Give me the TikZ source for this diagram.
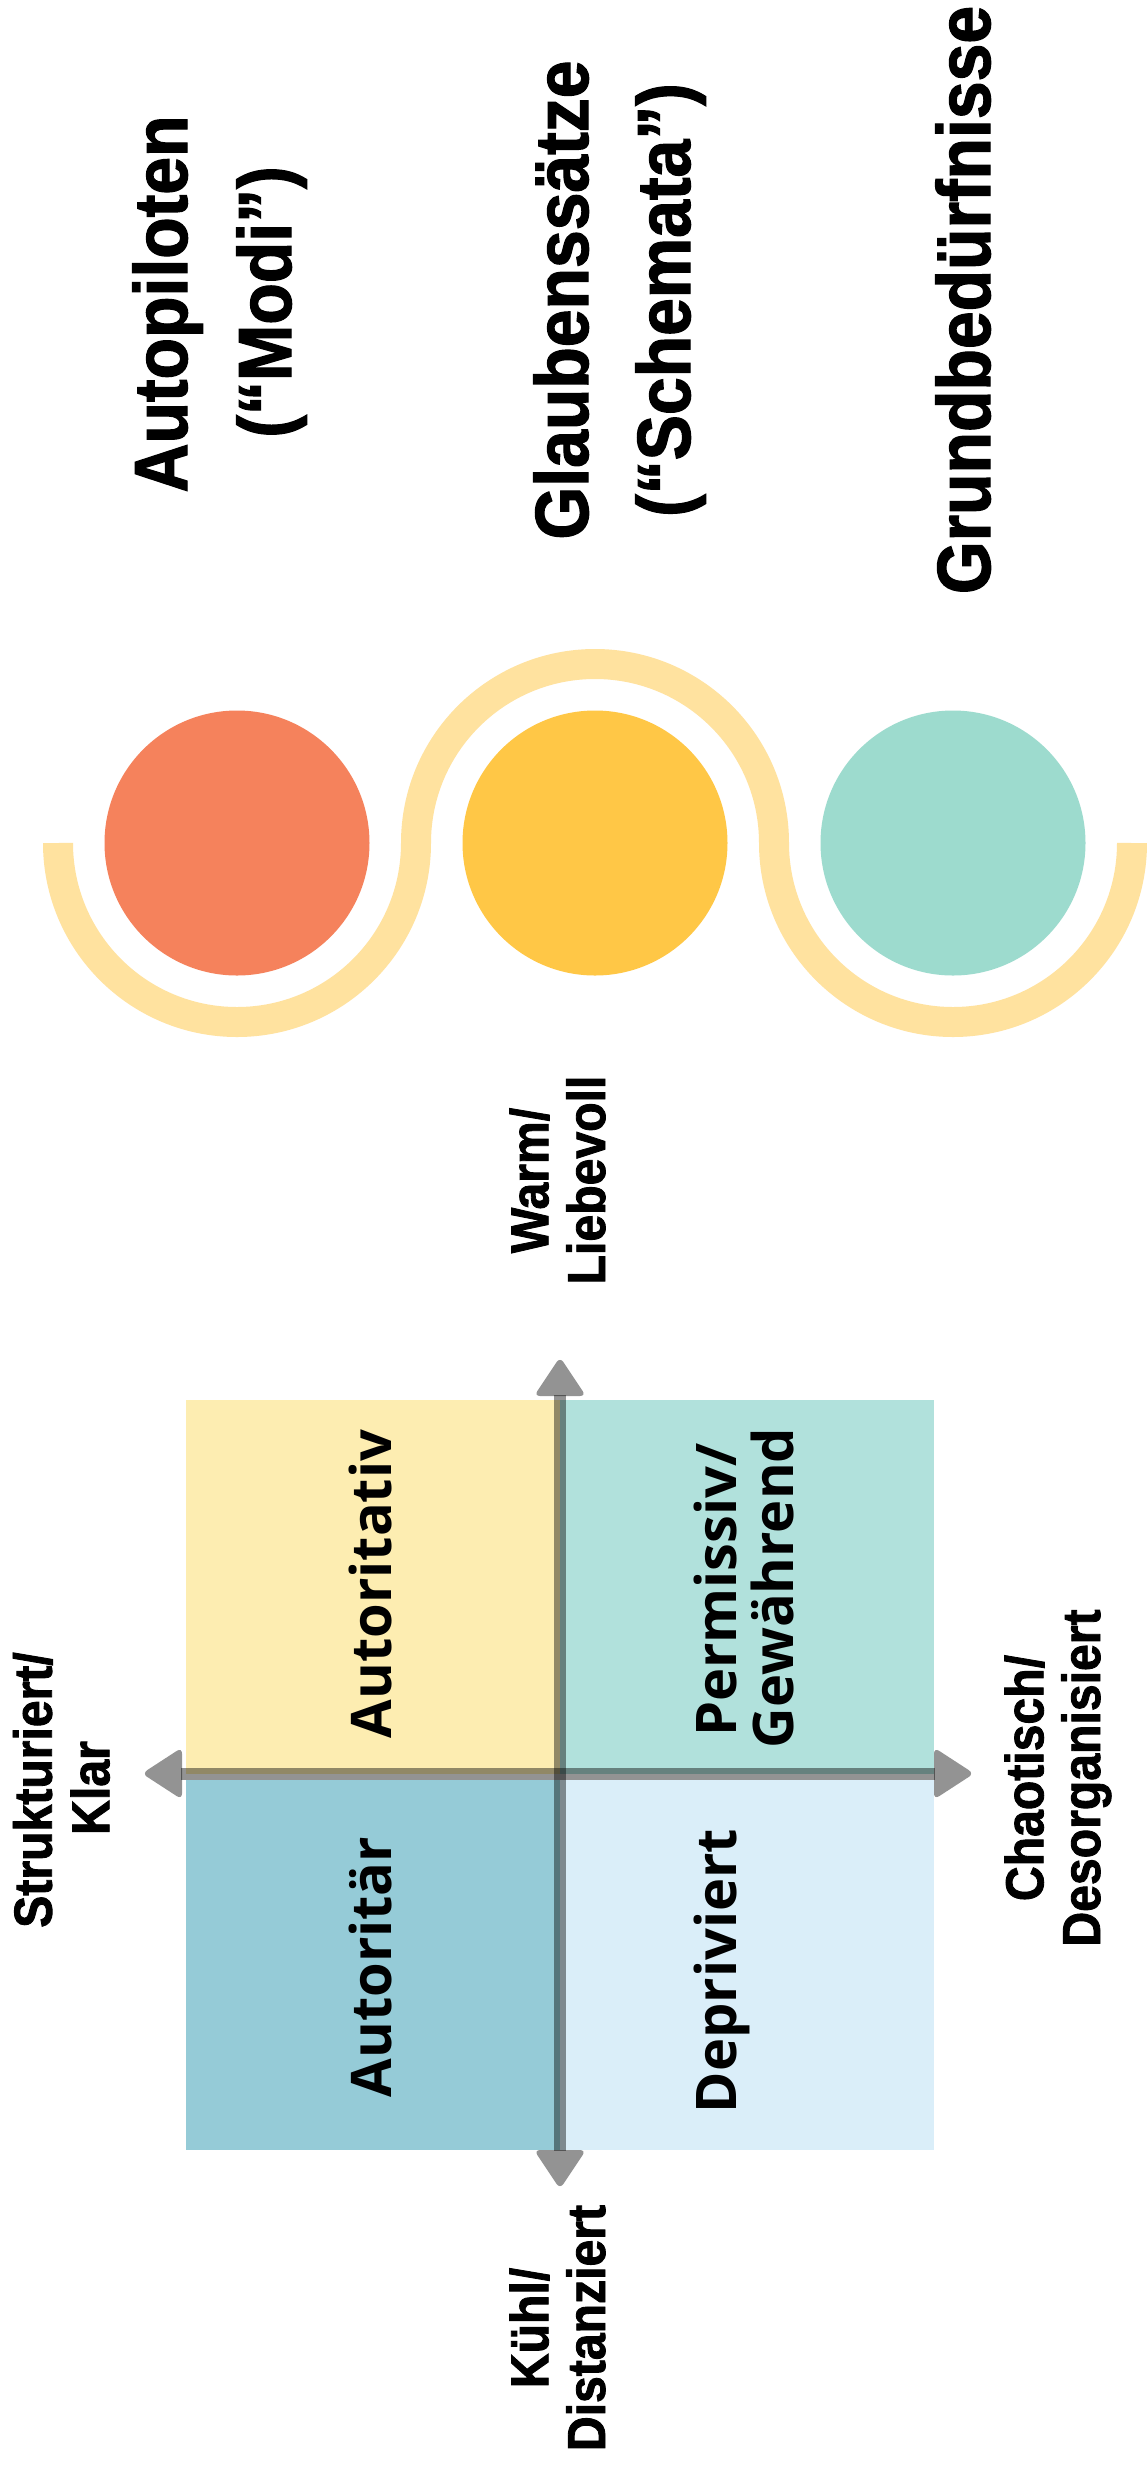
\documentclass[tikz,border=0pt]{standalone}
\usepackage{fontspec}
\setmainfont{Liberation Sans}
\newfontfamily\hfont[FakeStretch=0.9, FakeBold=1.6, UprightFont={Liberation Sans Bold}, BoldFont={Liberation Sans Bold}]{Liberation Sans Bold}
\newfontfamily\qfont{Open Sans}
\definecolor{cred}{HTML}{F5825C}
\definecolor{cyel}{HTML}{FFC746}
\definecolor{cteal}{HTML}{9DDBCE}
\definecolor{cband}{HTML}{FFE29F}
\definecolor{qyel}{HTML}{FDEDB1}
\definecolor{qteal}{HTML}{B1E1DC}
\definecolor{qblue}{HTML}{95CBD7}
\definecolor{qlight}{HTML}{DAEEF9}
\definecolor{axgray}{HTML}{939393}
\begin{document}
\begin{tikzpicture}[x=1pt,y=-1pt,
  title/.style={rotate=90, anchor=base, inner sep=0pt, font=\hfont\fontsize{75.4}{80}\selectfont},
  axlabel/.style={rotate=90, anchor=base, inner sep=0pt, font=\hfont\fontsize{53.5}{57}\selectfont},
  quadlabel/.style={rotate=90, anchor=base, inner sep=0pt, font=\qfont\bfseries\fontsize{56}{60}\selectfont},
  ball/.style={circle, inner sep=0pt, minimum size=265pt},
  band/.style={draw=cband, line width=30pt},
  axisline/.style={draw=axgray, line width=12pt, blend mode=multiply},
  axishead/.style={fill=axgray, rounded corners=6pt, blend mode=multiply}]
\useasboundingbox (0,0) rectangle (1146,2471);
\fill[white] (0,0) rectangle (1146,2471);

% titles
\node[title] (t1a) at (187,304) {Autopiloten};
\node[title] (t1b) at (291,302) {(“Modi”)};
\node[title] (t2a) at (588,300) {Glaubenssätze};
\node[title] (t2b) at (690,300) {(“Schemata”)};
\node[title] (t3) at (990,300) {Grundbedürfnisse};

% wave band and circles
\draw[band] (58,843) arc[start angle=180, end angle=0, radius=179]
  arc[start angle=180, end angle=360, radius=179]
  arc[start angle=180, end angle=0, radius=179];
\node[ball, fill=cred] (c1) at (237,843) {};
\node[ball, fill=cyel] (c2) at (595,843) {};
\node[ball, fill=cteal] (c3) at (953,843) {};

% quadrants
\fill[qyel] (186,1400) rectangle (560,1773.5);
\fill[qteal] (560,1400) rectangle (934,1773.5);
\fill[qblue] (186,1779.5) rectangle (560,2150);
\fill[qlight] (560,1779.5) rectangle (934,2150);

% axes
\coordinate (vt) at (560,1395);
\coordinate (vb) at (560,2151);
\coordinate (hl) at (181,1773.5);
\coordinate (hr) at (935,1773.5);
\draw[axisline] (vt) -- (vb);
\draw[axisline] (hl) -- (hr);
\fill[axishead] (560,1357) -- (534,1396) -- (586,1396) -- cycle;
\fill[axishead] (560,2189) -- (534,2150) -- (586,2150) -- cycle;
\fill[axishead] (142,1773.5) -- (182,1747.5) -- (182,1799.5) -- cycle;
\fill[axishead] (974,1773.5) -- (934,1747.5) -- (934,1799.5) -- cycle;

% axis labels
\node[axlabel] (wa) at (548.3,1180.5) {Warm/};
\node[axlabel] (wb) at (605,1180) {Liebevoll};
\node[axlabel] (sa) at (51.7,1790) {Strukturiert/};
\node[axlabel] (sb) at (109.3,1788) {Klar};
\node[axlabel] (ca) at (1043.3,1778) {Chaotisch/};
\node[axlabel] (cb) at (1100,1778) {Desorganisiert};
\node[axlabel] (ka) at (548.3,2328) {Kühl/};
\node[axlabel] (kb) at (605,2328) {Distanziert};

% quadrant labels
\node[quadlabel] (q1) at (391.7,1584) {Autoritativ};
\node[quadlabel] (q2a) at (736,1590) {Permissiv/};
\node[quadlabel] (q2b) at (793,1588) {Gewährend};
\node[quadlabel] (q3) at (391.7,1967) {Autoritär};
\node[quadlabel] (q4) at (736,1971) {Depriviert};
\end{tikzpicture}
\end{document}
